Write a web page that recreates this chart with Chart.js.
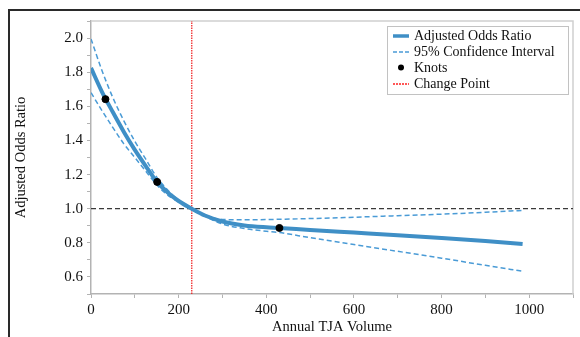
<!DOCTYPE html>
<html>
<head>
<meta charset="utf-8">
<script src="https://cdn.jsdelivr.net/npm/chart.js@4.4.1/dist/chart.umd.min.js"></script>
<style>
  html, body { margin: 0; padding: 0; background: #fff; }
  #wrap { position: relative; width: 580px; height: 337px; overflow: hidden; }
  #frame { position: absolute; left: 8px; top: 9px; width: 700px; height: 400px; border-top: 2px solid #2a2a2a; border-left: 2px solid #2a2a2a; }
  #orChart { position: absolute; left: 0; top: 0; }
</style>
</head>
<body>
<div id="wrap">
  <div id="frame"></div>
  <canvas id="orChart" width="580" height="337"></canvas>
</div>
<script>
// data
const xVolume = [0, 25, 50, 75, 100, 125, 150, 175, 200, 230, 260, 300, 350, 400, 430, 500, 600, 700, 800, 900, 985];
const oddsRatio = [1.825, 1.685, 1.565, 1.45, 1.345, 1.25, 1.16, 1.095, 1.045, 1.0, 0.96, 0.925, 0.902, 0.891, 0.887, 0.875, 0.86, 0.845, 0.828, 0.81, 0.793];
const ciUpper = [1.995, 1.81, 1.65, 1.515, 1.395, 1.29, 1.185, 1.11, 1.05, 1.0, 0.963, 0.937, 0.935, 0.936, 0.938, 0.942, 0.95, 0.959, 0.968, 0.979, 0.99];
const ciLower = [1.68, 1.575, 1.475, 1.38, 1.3, 1.22, 1.14, 1.08, 1.04, 1.0, 0.957, 0.91, 0.884, 0.868, 0.86, 0.83, 0.79, 0.75, 0.71, 0.668, 0.633];
const knotX = [33, 151, 430];
const knotY = [1.642, 1.157, 0.887];
const changePoint = 230;
const refValue = 1.0;

const seriesLabels = ['Adjusted Odds Ratio', '95% Confidence Interval', 'Knots', 'Change Point'];
const xMajorTicks = [0, 200, 400, 600, 800, 1000];
const xMinorTicks = [100, 300, 500, 700, 900, 1100];
const yMajorTicks = [0.6, 0.8, 1.0, 1.2, 1.4, 1.6, 1.8, 2.0];
const yMinorTicks = [0.5, 0.7, 0.9, 1.1, 1.3, 1.5, 1.7, 1.9, 2.1];
const xRange = [0, 1100];
const yRange = [0.5, 2.1];

const FONT = '"Liberation Serif", "Times New Roman", serif';
const MAIN_BLUE = '#3f8fc6';
const CI_BLUE = '#4a9bd6';
const CP_RED = '#f01818';
const AXIS_GRAY = '#b3b3b3';

const pts = (xs, ys) => xs.map((x, i) => ({ x, y: ys[i] }));
const sorted = (a, b) => a.concat(b).sort((p, q) => p - q);

// light frame on top/right of plot area
const plotFrame = {
  id: 'plotFrame',
  beforeDatasetsDraw(chart) {
    const { ctx, chartArea: a } = chart;
    ctx.save();
    ctx.strokeStyle = '#d0d0d0';
    ctx.lineWidth = 1.5;
    ctx.beginPath();
    ctx.moveTo(a.left, a.top);
    ctx.lineTo(a.right, a.top);
    ctx.lineTo(a.right, a.bottom);
    ctx.stroke();
    ctx.restore();
  },
};

// boxed legend in the top-right corner
const boxLegend = {
  id: 'boxLegend',
  afterDraw(chart) {
    const { ctx, chartArea: a } = chart;
    const w = 182, h = 69;
    const left = a.right - w - 4, top = a.top + 5;
    ctx.save();
    ctx.fillStyle = '#fff';
    ctx.fillRect(left, top, w, h);
    ctx.strokeStyle = '#c2c2c2';
    ctx.lineWidth = 1;
    ctx.strokeRect(left + 0.5, top + 0.5, w - 1, h - 1);
    ctx.font = '14px ' + FONT;
    ctx.textBaseline = 'middle';
    seriesLabels.forEach((lbl, i) => {
      const cy = top + 9.5 + i * 16;
      const sx = left + 6;
      ctx.beginPath();
      if (i === 2) {
        ctx.fillStyle = '#000';
        ctx.arc(sx + 8, cy, 3, 0, Math.PI * 2);
        ctx.fill();
      } else {
        ctx.setLineDash(i === 1 ? [4, 2] : i === 3 ? [2, 1] : []);
        ctx.strokeStyle = i === 0 ? MAIN_BLUE : i === 1 ? CI_BLUE : '#ff2020';
        ctx.lineWidth = i === 0 ? 3.5 : 1.5;
        ctx.moveTo(sx, Math.round(cy));
        ctx.lineTo(sx + 16, Math.round(cy));
        ctx.stroke();
        ctx.setLineDash([]);
      }
      ctx.fillStyle = '#111';
      ctx.fillText(lbl, sx + 21, cy + 1);
    });
    ctx.restore();
  },
};

const chart = new Chart(document.getElementById('orChart').getContext('2d'), {
  type: 'line',
  data: {
    datasets: [
      {
        label: seriesLabels[2],
        type: 'scatter',
        data: pts(knotX, knotY),
        backgroundColor: '#000',
        borderColor: '#000',
        pointRadius: 3.5,
        order: 0,
      },
      {
        label: seriesLabels[0],
        data: pts(xVolume, oddsRatio),
        borderColor: MAIN_BLUE,
        borderWidth: 4,
        pointRadius: 0,
        cubicInterpolationMode: 'monotone',
        order: 1,
      },
      {
        label: seriesLabels[1],
        data: pts(xVolume, ciUpper),
        borderColor: CI_BLUE,
        borderWidth: 1.5,
        borderDash: [5, 3],
        pointRadius: 0,
        cubicInterpolationMode: 'monotone',
        order: 2,
      },
      {
        label: seriesLabels[1] + ' (lower)',
        data: pts(xVolume, ciLower),
        borderColor: CI_BLUE,
        borderWidth: 1.5,
        borderDash: [5, 3],
        pointRadius: 0,
        cubicInterpolationMode: 'monotone',
        order: 2,
      },
      {
        label: 'Reference',
        data: pts(xRange, [refValue, refValue]),
        borderColor: '#3a3a3a',
        borderWidth: 1.3,
        borderDash: [5, 3],
        pointRadius: 0,
        order: 4,
      },
      {
        label: seriesLabels[3],
        data: pts([changePoint, changePoint], yRange),
        borderColor: CP_RED,
        borderWidth: 1.2,
        borderDash: [1.5, 1],
        pointRadius: 0,
        order: 3,
      },
    ],
  },
  options: {
    responsive: false,
    animation: false,
    layout: { padding: { top: 21, right: 7, left: 0, bottom: 0 } },
    plugins: { legend: { display: false }, tooltip: { enabled: false } },
    scales: {
      x: {
        type: 'linear',
        min: xRange[0],
        max: xRange[1],
        afterBuildTicks: (s) => { s.ticks = sorted(xMajorTicks, xMinorTicks).map((v) => ({ value: v })); },
        afterFit: (s) => { s.height = 43; },
        grid: { drawOnChartArea: false, drawTicks: true, tickLength: 4, color: AXIS_GRAY, lineWidth: 1 },
        border: { color: AXIS_GRAY, width: 1.5 },
        ticks: {
          autoSkip: false,
          maxRotation: 0,
          padding: 3,
          color: '#111',
          font: { family: FONT, size: 15 },
          callback: (v) => (xMajorTicks.includes(v) ? String(v) : ''),
        },
        title: { display: true, text: 'Annual TJA Volume', color: '#111', font: { family: FONT, size: 14.5 }, padding: { top: 0, bottom: 1.5 } },
      },
      y: {
        min: yRange[0],
        max: yRange[1],
        afterBuildTicks: (s) => { s.ticks = sorted(yMajorTicks, yMinorTicks).map((v) => ({ value: v })); },
        afterFit: (s) => { s.width = 91; },
        grid: { drawOnChartArea: false, drawTicks: true, tickLength: 4, color: AXIS_GRAY, lineWidth: 1 },
        border: { color: AXIS_GRAY, width: 1.5 },
        ticks: {
          autoSkip: false,
          padding: 4,
          color: '#111',
          font: { family: FONT, size: 15 },
          callback: (v) => (yMajorTicks.includes(v) ? v.toFixed(1) : ''),
        },
        title: { display: true, text: 'Adjusted Odds Ratio', color: '#111', font: { family: FONT, size: 14.5 }, padding: { top: 12, bottom: 0 } },
      },
    },
  },
  plugins: [plotFrame, boxLegend],
});
</script>
</body>
</html>
